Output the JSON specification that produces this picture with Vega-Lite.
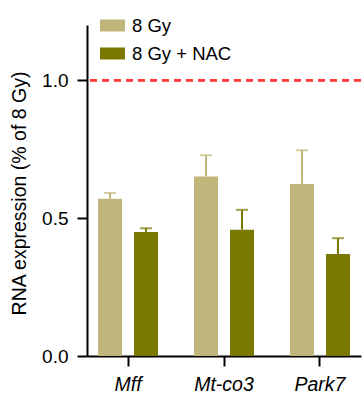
{
  "$schema": "https://vega.github.io/schema/vega-lite/v6.json",
  "width": 274,
  "height": 331,
  "autosize": {"type": "none"},
  "padding": {"left": 87, "top": 25, "right": 1, "bottom": 40},
  "config": {
    "font": "Liberation Sans",
    "view": {"stroke": null},
    "axis": {"grid": false, "domainColor": "#000000", "tickColor": "#000000", "labelColor": "#000000", "titleColor": "#000000"}
  },
  "data": {
    "values": [
      {"gene": "Mff", "group": "8 Gy", "value": 0.570, "upper": 0.591},
      {"gene": "Mff", "group": "8 Gy + NAC", "value": 0.450, "upper": 0.463},
      {"gene": "Mt-co3", "group": "8 Gy", "value": 0.651, "upper": 0.728},
      {"gene": "Mt-co3", "group": "8 Gy + NAC", "value": 0.458, "upper": 0.530},
      {"gene": "Park7", "group": "8 Gy", "value": 0.624, "upper": 0.746},
      {"gene": "Park7", "group": "8 Gy + NAC", "value": 0.370, "upper": 0.427}
    ]
  },
  "resolve": {"scale": {"color": "independent"}, "legend": {"color": "independent"}},
  "layer": [
    {
      "mark": {"type": "bar"},
      "encoding": {
        "x": {
          "field": "gene", "type": "nominal", "sort": ["Mff", "Mt-co3", "Park7"],
          "scale": {"paddingInner": 0.375, "paddingOuter": 0.115},
          "axis": {"title": null, "labelAngle": 0, "labelFontSize": 19.5, "labelFontStyle": "italic", "tickSize": 10, "tickWidth": 2, "domainWidth": 2, "labelPadding": 9}
        },
        "xOffset": {"field": "group", "type": "nominal", "sort": ["8 Gy", "8 Gy + NAC"], "scale": {"paddingInner": 0.3333, "paddingOuter": 0}},
        "y": {
          "field": "value", "type": "quantitative",
          "scale": {"domain": [0, 1.2], "nice": false, "zero": true},
          "axis": {
            "title": "RNA expression (% of 8 Gy)", "values": [0, 0.5, 1.0], "format": ".1f",
            "labelFontSize": 19, "tickSize": 10, "tickWidth": 2, "domainWidth": 2, "labelPadding": 9,
            "titleFontSize": 19.5, "titleFontWeight": "normal", "titleX": -68, "titleY": 168, "titleBaseline": "middle", "titleAngle": -90, "titleAlign": "center"
          }
        },
        "color": {
          "field": "group", "type": "nominal",
          "scale": {"domain": ["8 Gy", "8 Gy + NAC"], "range": ["#c0b67c", "#7a7800"]},
          "legend": {
            "title": null, "orient": "none", "legendX": 13, "legendY": -12,
            "symbolType": "M-1,-0.48H1V0.48H-1Z", "symbolSize": 625, "symbolStrokeWidth": 0, "symbolOpacity": 1,
            "labelFontSize": 18.5, "labelColor": "#000000", "labelOffset": 7, "rowPadding": 6
          }
        }
      }
    },
    {
      "mark": {"type": "rule", "strokeWidth": 2},
      "encoding": {
        "x": {"field": "gene", "type": "nominal", "sort": ["Mff", "Mt-co3", "Park7"]},
        "xOffset": {"field": "group", "type": "nominal", "sort": ["8 Gy", "8 Gy + NAC"]},
        "y": {"field": "value", "type": "quantitative"},
        "y2": {"field": "upper"},
        "color": {"field": "group", "type": "nominal", "scale": {"domain": ["8 Gy", "8 Gy + NAC"], "range": ["#c0b67c", "#7a7800"]}, "legend": null}
      }
    },
    {
      "mark": {"type": "tick", "size": 12, "thickness": 2, "orient": "horizontal"},
      "encoding": {
        "x": {"field": "gene", "type": "nominal", "sort": ["Mff", "Mt-co3", "Park7"]},
        "xOffset": {"field": "group", "type": "nominal", "sort": ["8 Gy", "8 Gy + NAC"]},
        "y": {"field": "upper", "type": "quantitative"},
        "color": {"field": "group", "type": "nominal", "scale": {"domain": ["8 Gy", "8 Gy + NAC"], "range": ["#c0b67c", "#7a7800"]}, "legend": null}
      }
    },
    {
      "mark": {"type": "rule", "color": "#ff3b3b", "strokeWidth": 2, "strokeDash": [7, 5]},
      "encoding": {"y": {"datum": 1.0}}
    }
  ]
}
